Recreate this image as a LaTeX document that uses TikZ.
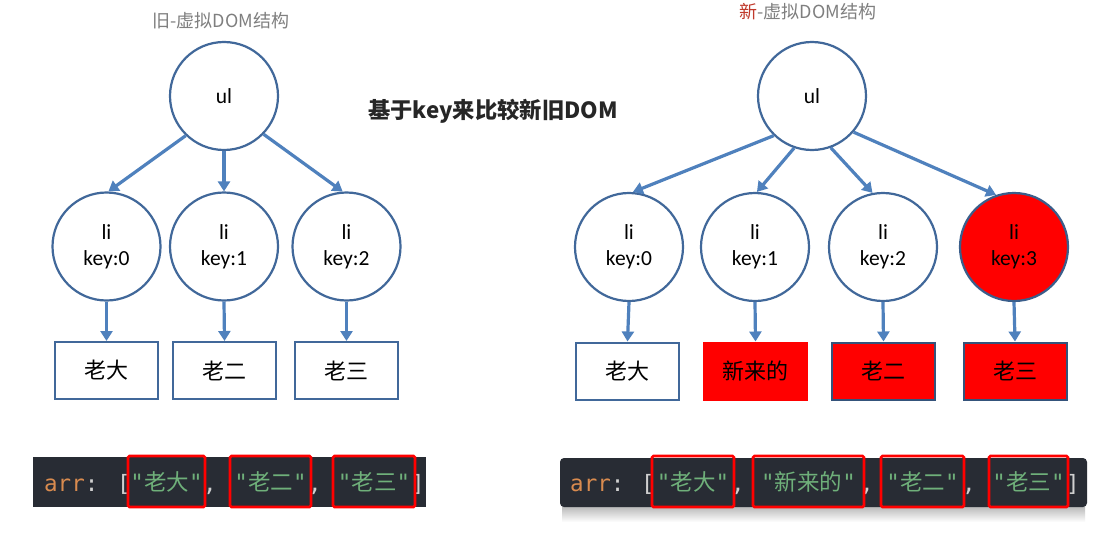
\documentclass[tikz,border=0pt]{standalone}
\usepackage{fontspec}
\setmainfont{Carlito}
\newfontfamily\cjk{Noto Sans CJK SC}
\newfontfamily\mono{DejaVu Sans Mono}
\usetikzlibrary{arrows.meta}
\definecolor{cblue}{HTML}{41689A}
\definecolor{ablue}{HTML}{4F81BD}
\definecolor{codebg}{HTML}{282C34}
\definecolor{codeor}{HTML}{D98B4F}
\definecolor{codegr}{HTML}{6FB07A}
\definecolor{codepu}{HTML}{D0D0D0}
\definecolor{ttlgray}{HTML}{7F7F7F}
\definecolor{newred}{HTML}{C0392B}
\definecolor{hired}{HTML}{FF0000}
\definecolor{txtdark}{HTML}{262626}
\newcommand\codestr[1]{"{\cjk\fontsize{22.5}{22.5}\selectfont #1}"}
\begin{document}
\begin{tikzpicture}[x=1pt,y=-1pt,
  circ/.style={circle,draw=cblue,line width=2.2pt,minimum size=108pt,inner sep=0pt,fill=white,align=center,font=\fontsize{21.5}{26}\selectfont},
  leaf/.style={rectangle,draw=cblue,line width=2pt,minimum width=103pt,minimum height=57pt,inner sep=0pt,fill=white,font=\cjk\fontsize{22}{22}\selectfont},
  link/.style={draw=ablue,line width=3.2pt,-{Triangle[width=12pt,length=10pt]}},
  ttl/.style={inner sep=0pt,text=ttlgray,font=\cjk\fontsize{18}{18}\selectfont},
  head/.style={inner sep=0pt,text=txtdark,font=\cjk\bfseries\fontsize{22.3}{22.3}\selectfont},
  tok/.style={inner sep=0pt,anchor=base,text=codepu,font=\mono\fontsize{22.5}{22.5}\selectfont},
  hl/.style={draw=hired,line width=2.6pt,rounded corners=1.5pt,minimum height=51pt,inner sep=0pt,text=codegr,font=\mono\fontsize{22.5}{22.5}\selectfont}]
\useasboundingbox[fill=white] (0,0) rectangle (1100,535);

% titles
\node[ttl] (t1) at (221,21) {旧-虚拟DOM结构};
\node[ttl] (t2) at (808,12) {\textcolor{newred}{新}-虚拟DOM结构};
\node[head] (mid) at (493,111) {基于key来比较新旧DOM};

% old tree
\node[circ] (ul1) at (224,96) {ul};
\node[circ] (a0) at (106.5,246.5) {li\\key:0};
\node[circ] (a1) at (224,246.5) {li\\key:1};
\node[circ] (a2) at (346.5,246.5) {li\\key:2};
\node[leaf] (x0) at (106.5,370.5) {老大};
\node[leaf] (x1) at (224.5,370.5) {老二};
\node[leaf] (x2) at (346.5,370.5) {老三};
\draw[link] (ul1.226) -- (a0.88);
\draw[link] (ul1.270) -- (a1.90);
\draw[link] (ul1.316) -- (a2.94);
\draw[link] (a0.south) -- (x0.north);
\draw[link] (a1.south) -- (x1.north);
\draw[link] (a2.south) -- (x2.north);

% new tree
\node[circ] (ul2) at (812,96) {ul};
\node[circ] (b0) at (629,247) {li\\key:0};
\node[circ] (b1) at (755,247) {li\\key:1};
\node[circ] (b2) at (883,247) {li\\key:2};
\node[circ,fill=red,draw=cblue!90!black] (b3) at (1014,247) {li\\key:3};
\node[leaf] (y0) at (627.5,371) {老大};
\node[leaf,fill=red,draw=red] (y1) at (755.5,371) {新来的};
\node[leaf,fill=red,draw=cblue!80!black] (y2) at (883.5,371) {老二};
\node[leaf,fill=red,draw=cblue!80!black] (y3) at (1015,371) {老三};
\draw[link] (ul2.226) -- (b0.86);
\draw[link] (ul2.251) -- (b1.88);
\draw[link] (ul2.290) -- (b2.101);
\draw[link] (ul2.319) -- (b3.109);
\draw[link] (b0.south) -- (y0.north);
\draw[link] (b1.south) -- (y1.north);
\draw[link] (b2.south) -- (y2.north);
\draw[link] (b3.south) -- (y3.north);

% old code bar
\fill[codebg] (33,457) rectangle (426,507);
\node[tok,anchor=base west] (larr) at (44,491) {\textcolor{codeor}{arr}:};
\node[tok] (lob) at (124,491) {[};
\node[tok] (lc1) at (210,491) {,};
\node[tok] (lc2) at (315,491) {,};
\node[tok] (lcb) at (418,491) {]};
\node[hl,minimum width=77pt] (ls1) at (166.5,481.5) {\codestr{老大}};
\node[hl,minimum width=81pt] (ls2) at (270.5,481.5) {\codestr{老二}};
\node[hl,minimum width=82pt] (ls3) at (374,481.5) {\codestr{老三}};

% new code bar
\shade[top color=black!30,bottom color=white] (562,505) rectangle (1085,522);
\fill[codebg,rounded corners=4pt] (560,458) rectangle (1087,507);
\node[tok,anchor=base west] (rarr) at (570,491) {\textcolor{codeor}{arr}:};
\node[tok] (rob) at (648,491) {[};
\node[tok] (rc1) at (738,491) {,};
\node[tok] (rc2) at (867,491) {,};
\node[tok] (rc3) at (969,491) {,};
\node[tok] (rcb) at (1073,491) {]};
\node[hl,minimum width=82pt] (rs1) at (693,481.5) {\codestr{老大}};
\node[hl,minimum width=111pt] (rs2) at (808.5,481.5) {\codestr{新来的}};
\node[hl,minimum width=83pt] (rs3) at (922.5,481.5) {\codestr{老二}};
\node[hl,minimum width=79pt] (rs4) at (1028.5,481.5) {\codestr{老三}};
\end{tikzpicture}
\end{document}
